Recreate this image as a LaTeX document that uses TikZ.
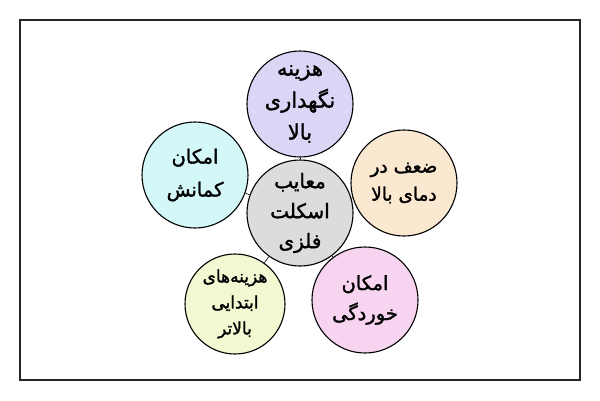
\documentclass[tikz,border=0pt]{standalone}
\usepackage{fontspec}
\newfontfamily\arabicfont[Script=Arabic,FakeBold=1.6]{DejaVu Sans}
\TeXXeTstate=1
\newcommand{\rl}[1]{\beginR #1\endR}
\newcommand{\fs}[2]{\arabicfont\fontsize{#1}{#2}\selectfont}
\begin{document}
\begin{tikzpicture}[x=1pt,y=-1pt,
  bubble/.style={circle,draw=black,line width=1.1pt,minimum size=106pt,inner sep=0pt},
  label text/.style={align=center,inner sep=0pt},
  link/.style={draw=black,line width=0.6pt}]
\useasboundingbox (0,0) rectangle (600,400);
\fill[white] (0,0) rectangle (600,400);
\draw[line width=1.5pt,draw=black!85] (20,20) rectangle (580,380);
\definecolor{cgrey}{HTML}{DCDCDC}
\definecolor{cpurp}{HTML}{DAD6F6}
\definecolor{cpeach}{HTML}{FBE8D0}
\definecolor{ccyan}{HTML}{D4F7F7}
\definecolor{cyell}{HTML}{F3F8D2}
\definecolor{cpink}{HTML}{F7D5F0}
\node[bubble,fill=cgrey] (c) at (300,213) {};
\node[bubble,fill=cpurp] (t) at (300,104) {};
\node[bubble,fill=cpeach] (r) at (404,183) {};
\node[bubble,fill=ccyan] (l) at (195,175) {};
\node[bubble,fill=cyell,minimum size=100pt] (bl) at (235,304) {};
\node[bubble,fill=cpink] (br) at (365,300) {};
\foreach \o in {t,r,l,bl,br} \draw[link] (c) -- (\o);
\node[label text,font=\fs{20}{30}] (ct) at (c) {\rl{معایب}\\\rl{اسکلت}\\\rl{فلزی}};
\node[label text,font=\fs{21}{32}] (tt) at (t) {\rl{هزینه}\\\rl{نگهداری}\\\rl{بالا}};
\node[label text,font=\fs{18.5}{28}] (rt) at (r) {\rl{ضعف در}\\\rl{دمای بالا}};
\node[label text,font=\fs{19.5}{33}] (lt) at (l) {\rl{امکان}\\\rl{کمانش}};
\node[label text,font=\fs{17}{26}] (blt) at (bl) {\rl{هزینه‌های}\\\rl{ابتدایی}\\\rl{بالاتر}};
\node[label text,font=\fs{19.5}{30}] (brt) at (br) {\rl{امکان}\\\rl{خوردگی}};
\end{tikzpicture}
\end{document}
